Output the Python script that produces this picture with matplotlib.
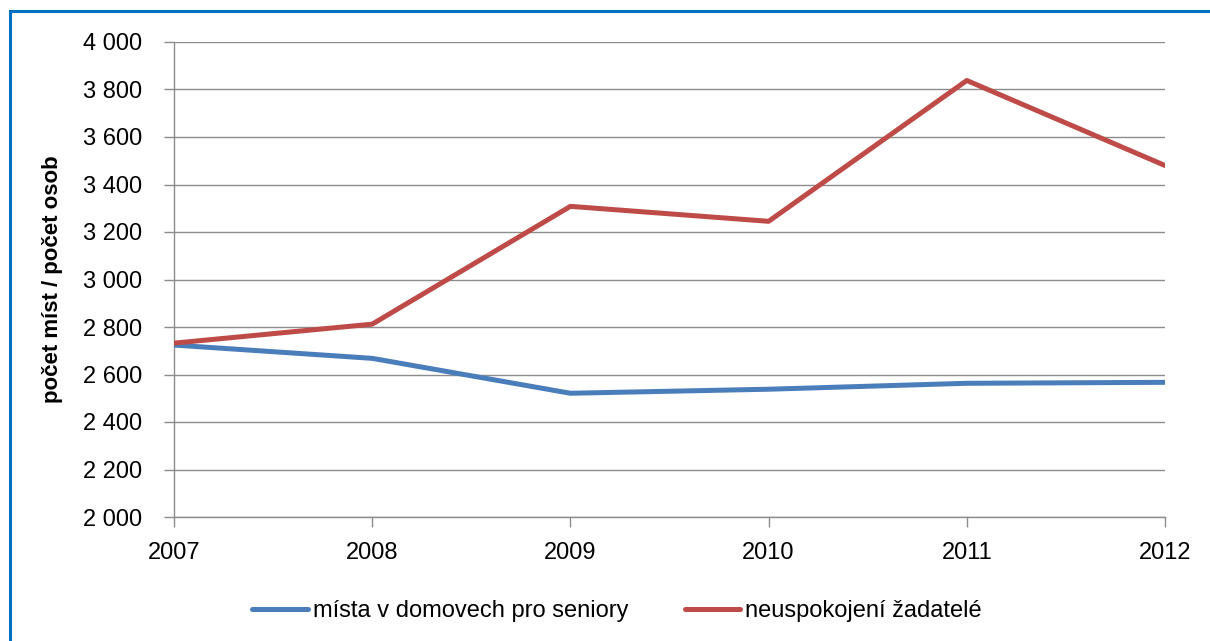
import matplotlib.pyplot as plt
from matplotlib import rcParams
from matplotlib.ticker import FuncFormatter
from matplotlib.patches import Rectangle

config = {"font.family": ['Liberation Sans', 'DejaVu Sans'], "font.size": 17}
rcParams.update(config)

years = [2007, 2008, 2009, 2010, 2011, 2012]
mista = [2724, 2668, 2521, 2538, 2563, 2567]
zadatele = [2732, 2812, 3308, 3245, 3838, 3480]
yticks = list(range(2000, 4001, 200))

fig = plt.figure(figsize=(12.1, 6.41), dpi=100)
ax = fig.add_axes([174 / 1210, 1 - 517 / 641, (1165 - 174) / 1210, (517 - 42) / 641])

ax.plot(years, mista, color='#4A7EBB', linewidth=3.6, solid_capstyle='round',
        label='místa v domovech pro seniory', zorder=3)
ax.plot(years, zadatele, color='#BE4B48', linewidth=3.6, solid_capstyle='round',
        label='neuspokojení žadatelé', zorder=3)

ax.set_xlim(2007, 2012)
ax.set_ylim(2000, 4000)
ax.set_xticks(years)
ax.set_yticks(yticks)
ax.yaxis.set_major_formatter(FuncFormatter(lambda v, p: '{:,.0f}'.format(v).replace(',', ' ')))
ax.grid(axis='y', color='#8C8C8C', linewidth=1)
ax.set_axisbelow(True)
for s in ['top', 'right']:
    ax.spines[s].set_visible(False)
for s in ['left', 'bottom']:
    ax.spines[s].set_color('#8C8C8C')
    ax.spines[s].set_linewidth(1)
ax.tick_params(axis='both', colors='#8C8C8C', labelcolor='black', length=7, width=1)
ax.tick_params(axis='y', pad=16)
ax.tick_params(axis='x', pad=11)
ax.set_ylabel('počet míst / počet osob', fontweight='bold', fontsize=16, labelpad=14)

ax.legend(loc='upper center', bbox_to_anchor=(0.447, -0.13), ncol=2, frameon=False,
          fontsize=17, handlelength=2.35, handletextpad=0.2, columnspacing=2.4)

# blue frame around the chart
fig.patches.append(Rectangle((9.5 / 1210, -0.1), 1.2, 1.1 - 11 / 641, transform=fig.transFigure,
                             fill=False, edgecolor='#0070C0', linewidth=2.2))

fig.savefig('out.png', dpi=100)
